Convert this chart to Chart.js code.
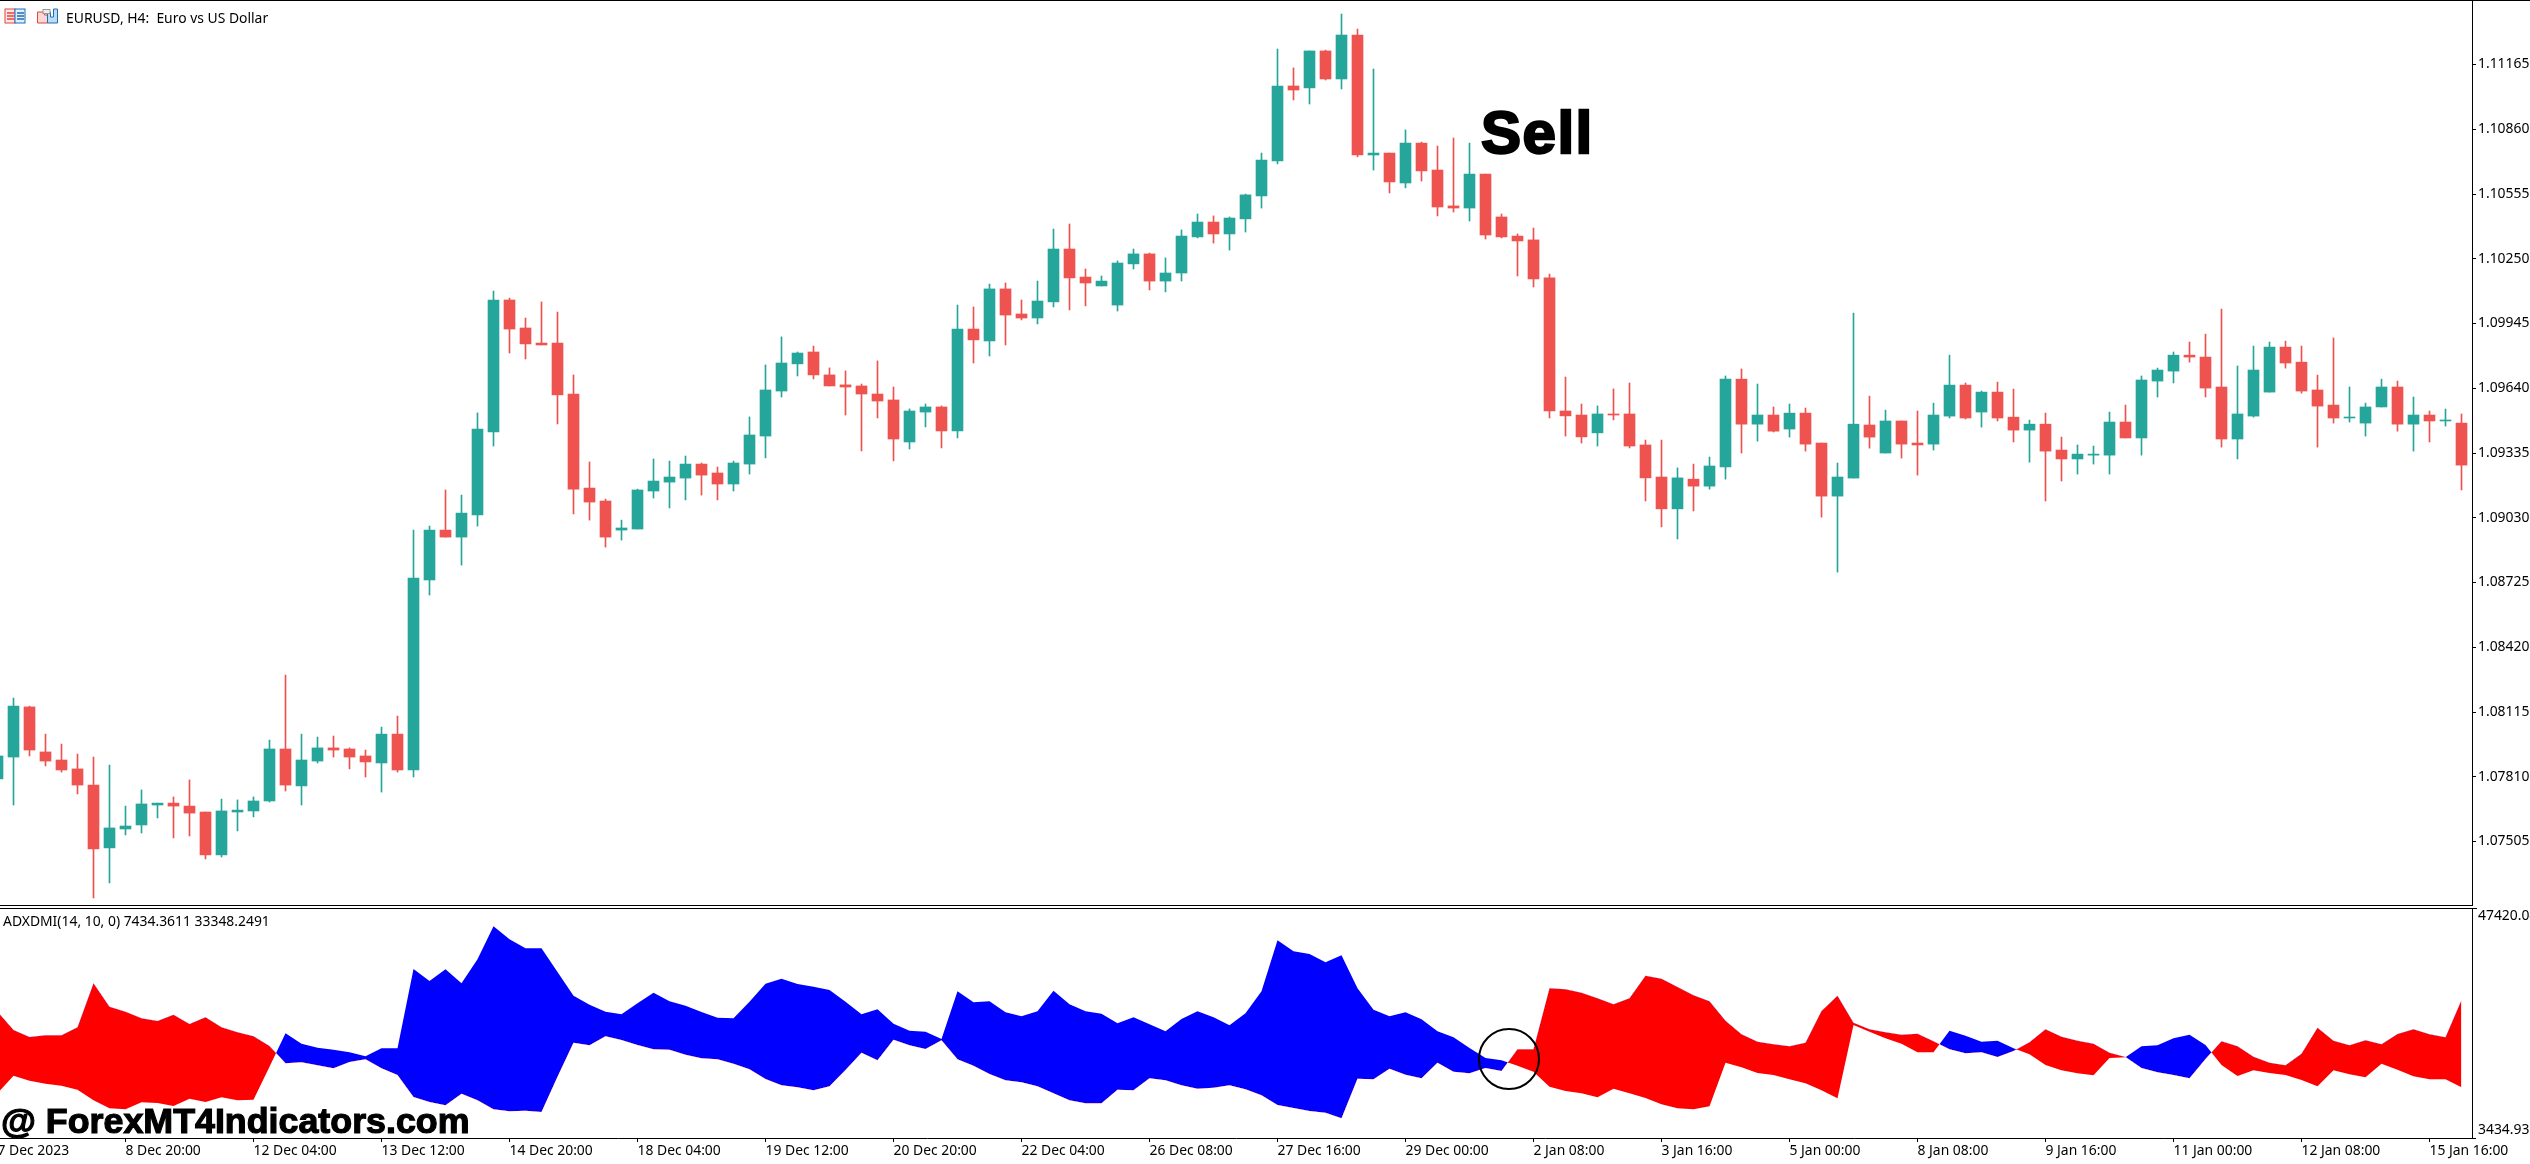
<!DOCTYPE html>
<html>
<head>
<meta charset="utf-8">
<title>EURUSD, H4</title>
<script src="https://cdn.jsdelivr.net/npm/chart.js@4"></script>
<style>
html,body{margin:0;padding:0;background:#fff;width:2530px;height:1164px;overflow:hidden}
canvas{position:absolute;left:0}
#main{top:0}
#sub{top:906px}
.t{position:absolute;font-family:"Noto Sans",sans-serif;font-size:13.9px;color:#000;white-space:pre;line-height:14px}
.rule{position:absolute;left:0;background:#000;height:1px}
#sell{position:absolute;left:1481px;top:98.500px;font:bold 60px/68px "Liberation Sans",sans-serif;letter-spacing:1.5px;color:#000;-webkit-text-stroke:2.4px #000;white-space:pre}
#mark{position:absolute;left:1px;top:1101px;font:bold 35.8px/40px "Liberation Sans",sans-serif;color:#000;-webkit-text-stroke:1.2px #000;white-space:pre}
#ring{position:absolute;left:1478px;top:1028px;width:58px;height:58px;border:2px solid #000;border-radius:50%}
svg{position:absolute}
</style>
</head>
<body>
<canvas id="main" width="2530" height="906"></canvas>
<canvas id="sub" width="2530" height="258"></canvas>
<div class="rule" style="top:0;width:2530px"></div>
<div class="rule" style="top:905px;width:2473px"></div>
<div class="rule" style="top:908px;width:2477px"></div>
<svg style="left:4px;top:8px" width="56" height="17" viewBox="0 0 56 17">
  <rect x="1" y="1" width="10" height="14" fill="#fde6e4" stroke="#e2453c"/>
  <rect x="11" y="1" width="10" height="14" fill="#e1effa" stroke="#1c6fb5"/>
  <path d="M3 5h7M3 8h7M3 11h7" stroke="#e2453c" stroke-width="1.4"/>
  <path d="M13 5h7M13 8h7M13 11h7" stroke="#1c6fb5" stroke-width="1.4"/>
  <path d="M33.500 4v11h10V7h-3V4z" fill="#fbd8d4" stroke="#e2453c"/>
  <path d="M43.500 4v11h10V1h-4v8h-3V4z" fill="#bcdcf5" stroke="#1c6fb5"/>
  <rect x="39" y="1.500" width="7" height="4" fill="#eee" stroke="#999"/>
</svg>
<div class="t" style="left:66px;top:11px">EURUSD, H4:  Euro vs US Dollar</div>
<div class="t" style="left:3px;top:914px">ADXDMI(14, 10, 0) 7434.3611 33348.2491</div>
<div id="sell">Sell</div>
<div id="mark">@ ForexMT4Indicators.com</div>
<div id="ring"></div>
<script>
// Candle values in points (1 point = 0.00001), first candle is the one cut by the left edge.
const openPts = [
107800,107903,108139,107927,107889,107847,107771,107475,107564,107583,
107677,107686,107672,107644,107442,107644,107649,107696,107941,107767,
107884,107946,107941,107908,107875,108011,107842,108737,108972,108939,
109043,109434,110056,109924,109853,109853,109613,109170,109109,108972,
108977,109156,109198,109217,109283,109241,109189,109283,109415,109627,
109755,109811,109703,109656,109651,109613,109585,109387,109528,109552,
109439,109919,109863,110108,109990,109971,110047,110296,110164,110122,
110032,110226,110273,110145,110183,110353,110423,110367,110438,110546,
110711,111064,111055,111229,111097,111304,110739,110748,110607,110795,
110668,110499,110489,110649,110447,110357,110339,110160,109533,109514,
109430,109519,109519,109373,109222,109072,109212,109179,109269,109683,
109471,109514,109448,109523,109382,109132,109217,109467,109335,109486,
109382,109377,109509,109655,109528,109622,109504,109443,109471,109349,
109307,109325,109325,109481,109406,109674,109721,109796,109787,109646,
109401,109509,109622,109834,109763,109632,109561,109500,109476,109552,
109646,109471,109514,109486,109476];
const highPts = [
107936,108181,108143,108011,107964,107917,107903,107865,107672,107748,
107686,107715,107795,107644,107705,107701,107715,107983,108289,108011,
107997,108002,107946,107936,108044,108096,108972,108991,109161,109137,
109524,110098,110065,109971,110047,109999,109703,109293,109118,109019,
109165,109307,109297,109321,109288,109269,109297,109505,109750,109882,
109811,109839,109736,109722,109660,109769,109646,109543,109566,109557,
110032,110023,110131,110136,110056,110145,110390,110414,110202,110169,
110240,110296,110277,110254,110386,110461,110452,110447,110555,110748,
111238,111149,111229,111233,111403,111332,111144,110748,110857,110800,
110781,110819,110795,110649,110461,110367,110395,110178,109693,109566,
109557,109637,109665,109396,109396,109265,109283,109316,109698,109731,
109660,109552,109566,109547,109382,109288,109994,109603,109537,109486,
109533,109570,109796,109665,109627,109669,109636,109490,109523,109410,
109373,109368,109528,109561,109698,109735,109811,109858,109895,110013,
109745,109839,109858,109862,109839,109702,109877,109646,109570,109683,
109674,109599,109533,109542,109519];
const lowPts = [
107771,107677,107908,107861,107832,107729,107239,107310,107536,107545,
107616,107522,107531,107423,107432,107555,107621,107691,107743,107677,
107875,107903,107847,107809,107738,107832,107809,108666,108939,108807,
108991,109368,109806,109778,109844,109472,109048,109019,108892,108925,
108977,109123,109076,109114,109137,109114,109156,109236,109312,109599,
109698,109684,109651,109514,109345,109500,109298,109354,109458,109359,
109406,109759,109792,109844,109962,109943,110023,110009,110028,110122,
110004,110202,110103,110094,110145,110348,110324,110291,110376,110489,
110697,110998,110979,111092,111050,110730,110668,110560,110584,110616,
110452,110470,110428,110343,110348,110169,110117,109500,109415,109382,
109368,109491,109359,109109,108987,108930,109062,109165,109212,109335,
109391,109434,109410,109344,109033,108774,109217,109358,109335,109311,
109231,109349,109500,109495,109457,109486,109387,109292,109109,109203,
109236,109283,109236,109406,109325,109599,109665,109763,109599,109363,
109307,109504,109622,109735,109617,109363,109476,109481,109415,109552,
109438,109344,109387,109462,109161];
const closePts = [
107908,108143,107936,107884,107842,107771,107470,107569,107578,107682,
107686,107672,107639,107442,107649,107653,107696,107941,107771,107889,
107946,107936,107903,107880,108011,107842,108746,108972,108939,109052,
109448,110056,109919,109849,109844,109609,109165,109104,108939,108982,
109161,109203,109222,109283,109231,109189,109288,109420,109632,109759,
109806,109703,109651,109646,109613,109580,109401,109533,109552,109439,
109919,109868,110108,109985,109971,110051,110296,110160,110136,110145,
110230,110273,110145,110183,110357,110423,110367,110442,110551,110715,
111064,111045,111229,111097,111304,110739,110748,110612,110795,110664,
110494,110489,110649,110362,110353,110334,110155,109533,109510,109411,
109519,109514,109368,109218,109072,109218,109179,109274,109683,109471,
109514,109438,109523,109377,109132,109222,109471,109410,109486,109377,
109373,109514,109655,109500,109622,109500,109443,109471,109344,109307,
109330,109330,109481,109406,109679,109726,109796,109787,109641,109401,
109519,109726,109834,109759,109627,109556,109500,109504,109552,109646,
109471,109514,109486,109490,109278];
// ADXDMI sub-window: the two lines the band is filled between.
const plusLine = [
11940,15304,14352,13781,13400,12639,10608,9084,8894,10227,
10100,9529,10925,10290,11179,10608,10734,17018,23365,21397,
20636,20255,19747,18986,20509,20509,35615,33330,35551,32885,
37455,43739,41264,39550,39550,35043,30537,28823,27491,26983,
29077,31108,29458,28633,27427,26348,26221,29395,32822,33774,
32759,32251,31616,29395,26983,27935,25206,23873,23682,22286,
31362,29268,29458,27364,26602,27554,31489,28887,27554,27110,
25269,26412,25079,23746,26094,27554,26412,24888,27173,31362,
41073,38979,38471,36884,38217,31933,27871,26602,27364,26031,
23746,22603,20572,18668,18224,17208,16066,13210,12385,11940,
11179,12829,11940,11052,9846,9084,8894,9465,17780,16891,
15812,15431,14606,13844,12512,10988,24952,23682,22413,21397,
19747,19747,23873,22921,21778,21969,20509,19366,17335,16320,
15749,15368,18668,18795,20890,21080,22413,23111,21144,17335,
15241,16320,15812,15431,14479,13273,16320,15558,14987,17589,
16447,15177,14606,14606,13083];
const minusLine = [
27491,24000,22667,22984,22984,24507,32885,28443,27491,26221,
25713,26919,25142,26412,24507,23555,22794,20953,17653,17843,
17272,16701,17907,18414,16701,15431,11242,10290,9655,11877,
10608,8894,8513,8640,8386,15114,21588,21080,22794,22096,
21144,20318,20255,19303,18605,18414,17589,16510,14670,13464,
13083,12512,13273,16383,19684,18224,22159,21080,20382,22032,
18414,17208,15622,14416,14035,13273,11940,10608,10036,10036,
12639,12512,14797,14416,13464,12829,13019,13464,12702,11560,
9719,9148,8576,8259,7180,14733,14606,16637,15495,14797,
17780,16066,15749,16764,16193,20318,20318,31933,31743,31108,
30029,28887,30029,34345,33774,32187,30601,29458,25777,23175,
21778,21270,20890,21588,27617,30537,25396,24127,23555,23111,
23302,21842,20318,19557,19747,18859,20001,21651,24127,22730,
21969,21397,19684,18859,16764,15939,15431,14797,18478,21842,
20890,18922,17780,17272,19493,24444,21969,21080,22032,21270,
23238,24127,23175,22603,29712];
const priceTicks = [1.11165,1.10860,1.10555,1.10250,1.09945,1.09640,1.09335,1.09030,1.08725,1.08420,1.08115,1.07810,1.07505];
const timeLabels = ["7 Dec 2023","8 Dec 20:00","12 Dec 04:00","13 Dec 12:00","14 Dec 20:00","18 Dec 04:00","19 Dec 12:00","20 Dec 20:00","22 Dec 04:00","26 Dec 08:00","27 Dec 16:00","29 Dec 00:00","2 Jan 08:00","3 Jan 16:00","5 Jan 00:00","8 Jan 08:00","9 Jan 16:00","11 Jan 00:00","12 Jan 08:00","15 Jan 16:00"];
const subTop = 47230, subBottom = 3434.93;
const subLabels = ["47420.04","3434.93"];

const UP = '#26a69a', DOWN = '#ef5350';
const FONT = {family:'"Noto Sans", sans-serif', size:13.9};
Chart.defaults.animation = false;
Chart.defaults.devicePixelRatio = 1;

const xRange = {min:-0.84375, max:153.65625};
const candleColor = closePts.map((c,k)=> c>=openPts[k] ? UP : DOWN);
const noPad = (s)=>{ s.paddingLeft=0; s.paddingRight=0; s.paddingTop=0; s.paddingBottom=0; };
const fitY = (s)=>{ s.width=58; noPad(s); };

new Chart(document.getElementById('main'), {
  type:'bar',
  data:{datasets:[
    {label:'wick', barThickness:1, backgroundColor:candleColor,
     data:highPts.map((h,k)=>({x:k-1, y:[lowPts[k]/1e5, h/1e5]}))},
    {label:'body', barThickness:11, minBarLength:1, backgroundColor:candleColor,
     data:openPts.map((o,k)=>({x:k-1, y:[o/1e5, closePts[k]/1e5]}))}
  ]},
  options:{
    responsive:false, maintainAspectRatio:false, grouped:false,
    layout:{padding:0},
    plugins:{legend:{display:false}, tooltip:{enabled:false}, title:{display:false}},
    scales:{
      x:{type:'linear', offset:false, display:true, ...xRange, grid:{display:false, offset:false}, border:{display:false},
         ticks:{display:false}, afterFit:(s)=>{s.height=1; noPad(s);}},
      y:{position:'right', min:1.07206, max:1.11469,
         afterBuildTicks:(s)=>{s.ticks=priceTicks.map(v=>({value:v}));},
         afterFit:fitY,
         grid:{drawOnChartArea:false, drawTicks:true, tickLength:4, color:'#000'},
         border:{display:true, color:'#000', width:1},
         ticks:{color:'#000', font:FONT, padding:2, autoSkip:false, callback:(v)=>v.toFixed(5)}}
    }
  }
});

new Chart(document.getElementById('sub'), {
  type:'line',
  data:{datasets:[
    {label:'+DI', data:plusLine.map((v,k)=>({x:k-1,y:v})), pointRadius:0, borderWidth:0, tension:0,
     fill:{target:1, above:'#0000ff', below:'#ff0000'}},
    {label:'-DI', data:minusLine.map((v,k)=>({x:k-1,y:v})), pointRadius:0, borderWidth:0, tension:0, fill:false}
  ]},
  options:{
    responsive:false, maintainAspectRatio:false,
    layout:{padding:{top:2}},
    plugins:{legend:{display:false}, tooltip:{enabled:false}},
    scales:{
      x:{type:'linear', ...xRange,
         afterBuildTicks:(s)=>{s.ticks=timeLabels.map((_,k)=>({value:-1+8*k}));},
         afterFit:(s)=>{s.height=26; noPad(s);},
         grid:{drawOnChartArea:false, drawTicks:true, tickLength:4, color:'#000'},
         border:{display:true, color:'#000', width:1},
         ticks:{color:'#000', font:FONT, padding:1, align:'start', autoSkip:false, maxRotation:0, minRotation:0,
                callback:(v,k)=>timeLabels[k]}},
      y:{position:'right', min:subBottom, max:subTop,
         afterBuildTicks:(s)=>{s.ticks=[{value:subTop},{value:subBottom}];},
         afterFit:fitY,
         grid:{drawOnChartArea:false, drawTicks:true, tickLength:4, color:'#000'},
         border:{display:true, color:'#000', width:1},
         ticks:{color:'#000', font:{...FONT, lineHeight:1.12}, padding:2, autoSkip:false,
                callback:(v,k)=> k===0 ? [' ',subLabels[0]] : [subLabels[1],' ']}}
    }
  }
});
</script>
</body>
</html>
